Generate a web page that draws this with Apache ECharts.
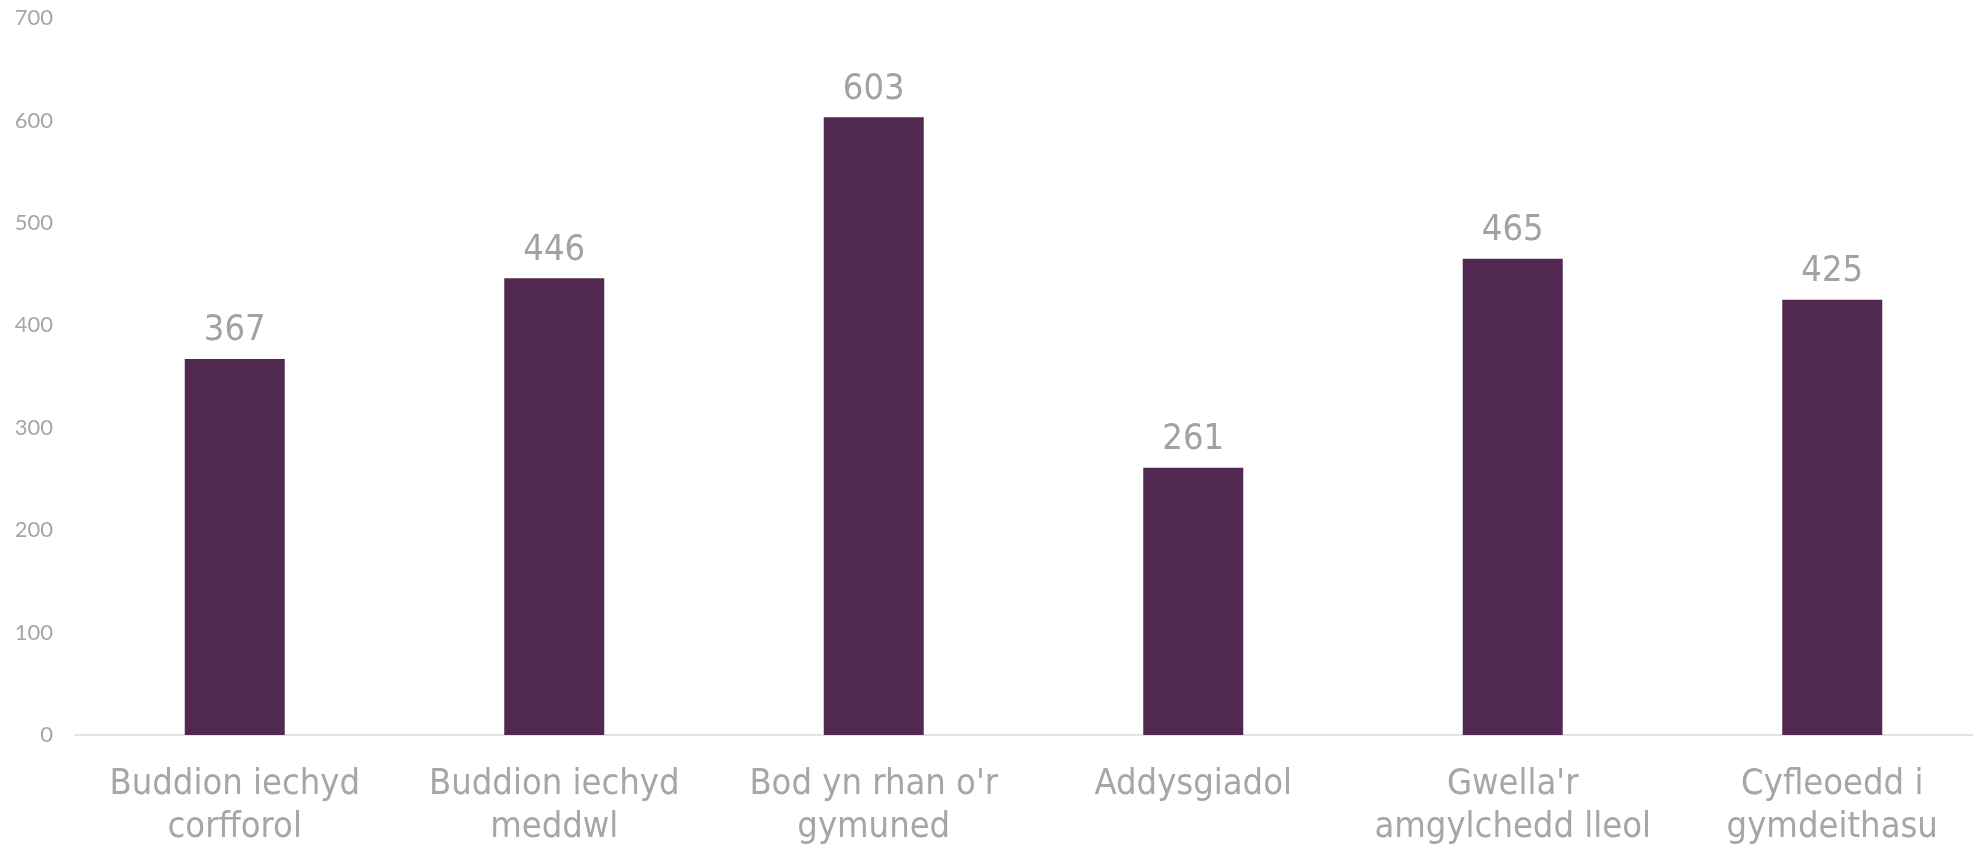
<!DOCTYPE html>
<html>
<head>
<meta charset="utf-8">
<script src="https://cdn.jsdelivr.net/npm/echarts@6/dist/echarts.min.js"></script>
<style>
  html, body { margin: 0; padding: 0; background: #ffffff; overflow: hidden; }
  #chart { width: 1973px; height: 845px; }
</style>
</head>
<body>
<div id="chart"></div>
<script>
// Categories (Welsh) and counts per benefit
const categories = [
  "Buddion iechyd\ncorfforol",
  "Buddion iechyd\nmeddwl",
  "Bod yn rhan o'r\ngymuned",
  "Addysgiadol",
  "Gwella'r\namgylchedd lleol",
  "Cyfleoedd i\ngymdeithasu"
];
const counts = [367, 446, 603, 261, 465, 425];
const yTicks = { min: 0, max: 700, interval: 100 };

const chart = echarts.init(document.getElementById('chart'), null, { renderer: 'canvas' });
chart.setOption({
  animation: false,
  backgroundColor: '#ffffff',
  // the plot area runs slightly past the right edge of the canvas
  grid: {
    left: 75, top: 18, right: -19, bottom: 110,
    containLabel: false,
    outerBoundsMode: 'none'
  },
  xAxis: {
    type: 'category',
    data: categories,
    axisLine: { show: true, lineStyle: { color: '#e3e3e3', width: 2 } },
    axisTick: { show: false },
    axisLabel: {
      color: '#a6a6a6',
      fontFamily: 'DejaVu Sans Condensed, DejaVu Sans',
      fontSize: 36,
      lineHeight: 43,
      margin: 28,
      interval: 0
    }
  },
  yAxis: {
    type: 'value',
    min: yTicks.min,
    max: yTicks.max,
    interval: yTicks.interval,
    axisLine: { show: false },
    axisTick: { show: false },
    splitLine: { show: false },
    axisLabel: {
      color: '#a6a6a6',
      fontFamily: 'Lato',
      fontSize: 22,
      margin: 22
    }
  },
  series: [{
    type: 'bar',
    data: counts,
    barWidth: '31.3%',
    itemStyle: { color: '#512850' },
    label: {
      show: true,
      position: 'top',
      distance: 10,
      color: '#a0a3a6',
      fontFamily: 'DejaVu Sans Condensed, DejaVu Sans',
      fontSize: 36
    }
  }]
});
</script>
</body>
</html>
